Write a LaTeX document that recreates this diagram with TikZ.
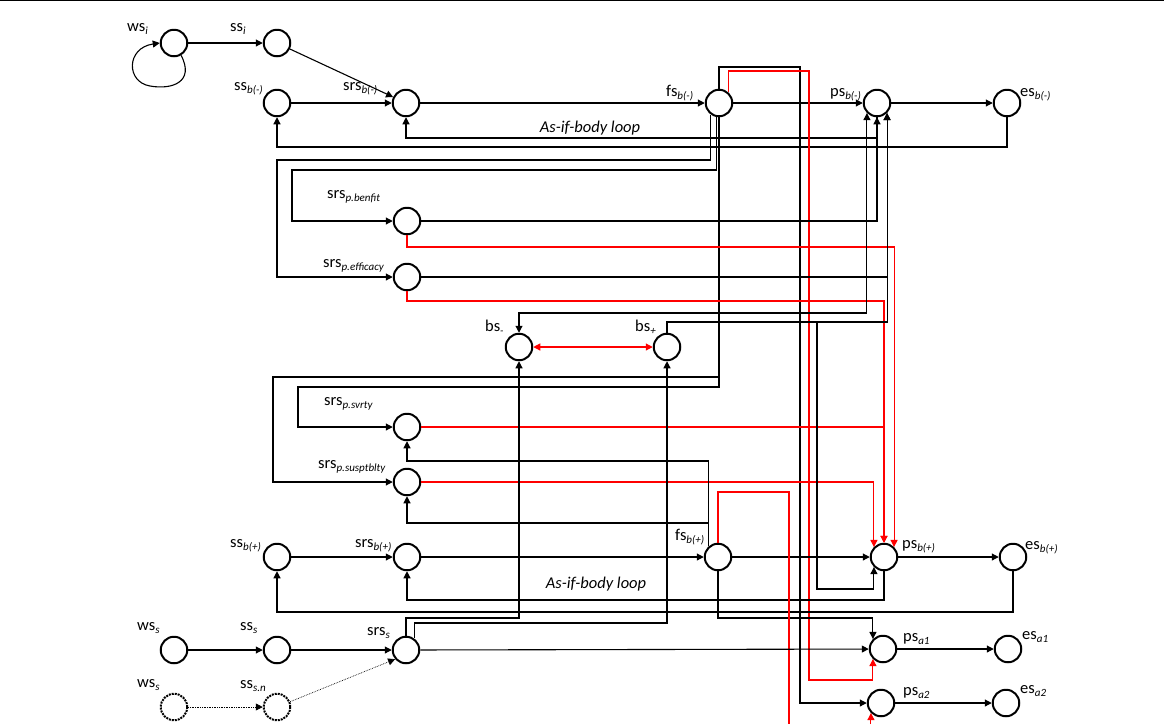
\documentclass[tikz,border=0pt]{standalone}
\usepackage{fontspec}
\setmainfont{Carlito}
\usetikzlibrary{arrows.meta,calc}
\newcommand\sbx[1]{\raisebox{-3.5pt}{\fontsize{11}{11}\selectfont\itshape #1}}
\begin{document}
\begin{tikzpicture}[x=1pt,y=-1pt,
  st/.style={circle,draw,line width=2pt,minimum size=26.5pt,inner sep=0pt},
  dst/.style={circle,draw,line width=2pt,minimum size=26.5pt,inner sep=0pt,densely dotted},
  conn/.style={line width=1.1pt,-{Triangle[length=7pt,width=7pt]}},
  bconn/.style={line width=1.1pt,{Triangle[length=7pt,width=7pt]}-{Triangle[length=7pt,width=7pt]}},
  rconn/.style={line width=1.1pt,draw=red,-{Triangle[length=7pt,width=7pt]}},
  rln/.style={line width=1.1pt,draw=red},
  ln/.style={line width=1.1pt},
  lab/.style={anchor=base west,inner sep=0pt,font=\fontsize{16.5}{16.5}\selectfont},
  loopl/.style={font=\itshape\fontsize{16.5}{16.5}\selectfont}]
\useasboundingbox (0,0) rectangle (1164,724);
\draw[line width=1.2pt] (0,0.6) -- (1164,0.6);
% nodes
\node[st] (wsi) at (174,43) {};
\node[st] (ssi) at (277,43) {};
\node[st] (ssbm) at (277,103) {};
\node[st] (srsbm) at (406,103) {};
\node[st] (fsbm) at (719,103) {};
\node[st] (psbm) at (877,103) {};
\node[st] (esbm) at (1007,103) {};
\node[st] (srspb) at (407,221) {};
\node[st] (srspe) at (407,277) {};
\node[st] (bsm) at (519,347) {};
\node[st] (bsp) at (667,347) {};
\node[st] (srsps) at (407,427) {};
\node[st] (srspu) at (407,482) {};
\node[st] (ssbp) at (277,557) {};
\node[st] (srsbp) at (407,557) {};
\node[st] (fsbp) at (718,557) {};
\node[st] (psbp) at (884,557) {};
\node[st] (esbp) at (1013,557) {};
\node[st] (wss) at (174,650) {};
\node[st] (sss) at (277,650) {};
\node[st] (srss) at (406,650) {};
\node[st] (psa1) at (883,649) {};
\node[st] (esa1) at (1008,649) {};
\node[dst] (wss2) at (174,707) {};
\node[dst] (sssn) at (277,707) {};
\node[st] (psa2) at (881,703) {};
\node[st] (esa2) at (1006,703) {};
% labels
\node[lab] (l1) at (127,31) {ws\sbx{i}};
\node[lab] (l2) at (230,31) {ss\sbx{i}};
\node[lab] (l3) at (234,90) {ss\sbx{b(-)}};
\node[lab] (l4) at (343,90) {srs\sbx{b(-)}};
\node[lab] (l5) at (666,96) {fs\sbx{b(-)}};
\node[lab] (l6) at (830,96) {ps\sbx{b(-)}};
\node[lab] (l7) at (1020,96) {es\sbx{b(-)}};
\node[lab] (l8) at (327,198) {srs\sbx{p.benfit}};
\node[lab] (l9) at (323,267) {srs\sbx{p.efficacy}};
\node[lab] (l10) at (485,331) {bs\sbx{-}};
\node[lab] (l11) at (635,331) {bs\sbx{+}};
\node[lab] (l12) at (324,405) {srs\sbx{p.svrty}};
\node[lab] (l13) at (318,468) {srs\sbx{p.susptblty}};
\node[lab] (l14) at (230,547) {ss\sbx{b(+)}};
\node[lab] (l15) at (355,547) {srs\sbx{b(+)}};
\node[lab] (l16) at (675,540) {fs\sbx{b(+)}};
\node[lab] (l17) at (902,548) {ps\sbx{b(+)}};
\node[lab] (l18) at (1025,549) {es\sbx{b(+)}};
\node[lab] (l19) at (137,630) {ws\sbx{s}};
\node[lab] (l20) at (240,630) {ss\sbx{s}};
\node[lab] (l21) at (367,635) {srs\sbx{s}};
\node[lab] (l22) at (903,641) {ps\sbx{a1}};
\node[lab] (l23) at (1022,639) {es\sbx{a1}};
\node[lab] (l24) at (137,687) {ws\sbx{s}};
\node[lab] (l25) at (240,688) {ss\sbx{s.n}};
\node[lab] (l26) at (903,695) {ps\sbx{a2}};
\node[lab] (l27) at (1020,693) {es\sbx{a2}};
\node[loopl] (al1) at (590,128) {As-if-body loop};
\node[loopl] (al2) at (596,584) {As-if-body loop};
% top row
\draw[conn] (wsi.-60) .. controls (195,82) and (172,90) .. (150,86) .. controls (126,82) and (126,48) .. (wsi.west);
\draw[conn] (wsi) -- (ssi);
\draw[conn] (ssi) -- (srsbm);
\draw[conn] (ssbm) -- (srsbm);
\draw[conn] (srsbm) -- (fsbm);
\draw[conn] (fsbm) -- (psbm);
\draw[conn] (psbm) -- (esbm);
\draw[conn] (esbm.south) |- (600,147) -| (ssbm.south);
\draw[conn] (psbm.south) |- (600,138) -| (srsbm.south);
% fs b(-) loops to protection srs
\draw[conn] (fsbm.-125) |- (500,160) -| (277,200) |- (srspe.west);
\draw[conn] (fsbm.-100) |- (500,170) -| (292,200) |- (srspb.west);
\draw[conn] (fsbm.-90) |- (500,387) -| (298,400) |- (srsps.west);
\draw[conn] (fsbm.-90) |- (500,377) -| (273,400) |- (srspu.west);
% fs b(-) top
\draw[conn] (fsbm.north) |- (800,67) |- (psa2.west);
\draw[rconn] (fsbm.50) |- (809,71) -- (809,680) -| (psa1.south west);
% protection srs to ps
\draw[conn] (srspb.east) -| (psbm.south);
\draw[conn] (srspe.east) -| (psbm.south east);
\draw[rconn] (srspb.south) |- (600,247) -| (psbp.north east);
\draw[rconn] (srspe.south) |- (600,301) -| (psbp.north);
\draw[rconn] (srsps.east) -| (psbp.north);
\draw[rconn] (srspu.east) -| (psbp.north west);
% belief states
\draw[bconn,draw=red] (bsm) -- (bsp);
\draw[bconn] (psbm.south west) |- (600,313) -| (bsm.north);
\draw[conn] (bsp.north) |- (700,322) -| (psbm.south east);
\draw[conn] (817,322) -- (817,589) -| (psbp.south west);
% b(+) row
\draw[conn] (ssbp) -- (srsbp);
\draw[conn] (srsbp) -- (fsbp);
\draw[conn] (fsbp) -- (psbp);
\draw[conn] (psbp) -- (esbp);
\draw[conn] (psbp.south) |- (600,600) -| (srsbp.south);
\draw[conn] (esbp.south) |- (600,612) -| (ssbp.south);
\draw[conn] (fsbp.south) |- (800,618) -| (psa1.north west);
\draw[conn] (fsbp.130) |- (600,461) -| (srsps.south);
\draw[conn] (fsbp.130) |- (600,523) -| (srspu.south);
\draw[rln] (fsbp.north) |- (789,492) -- (789,724);
\draw[rconn] (psa2.south west |- 0,724) -- (psa2.south west);
% stimulus row
\draw[conn] (wss) -- (sss);
\draw[conn] (sss) -- (srss);
\draw[conn] (srss) -- (psa1);
\draw[conn] (srss.north) |- (500,618) -| (bsm.south);
\draw[conn] (srss.55) |- (600,623) -| (bsp.south);
\draw[conn,line width=0.7pt,densely dotted] (wss2) -- (sssn);
\draw[conn,line width=0.7pt,densely dotted] (sssn) -- (srss.220);
% actions
\draw[conn] (psa1) -- (esa1);
\draw[conn] (psa2) -- (esa2);
\end{tikzpicture}
\end{document}
